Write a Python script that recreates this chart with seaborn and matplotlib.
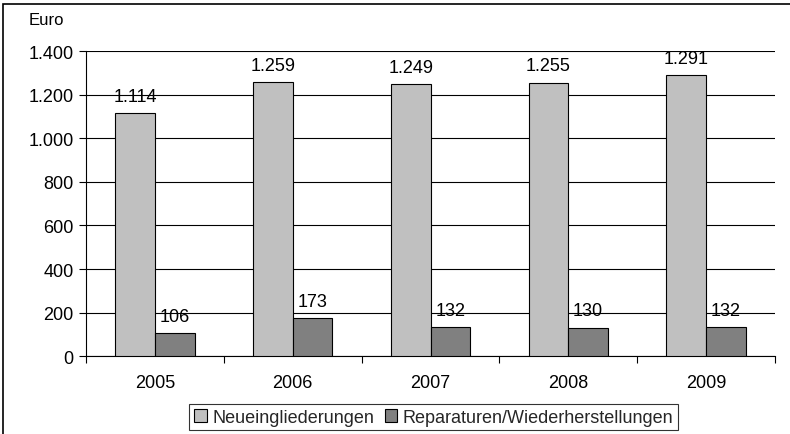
import matplotlib
matplotlib.use("Agg")
import matplotlib.pyplot as plt
import matplotlib.ticker as mticker
from matplotlib.patches import Rectangle
import seaborn as sns
import pandas as pd

years = ["2005", "2006", "2007", "2008", "2009"]
neu = [1114, 1259, 1249, 1255, 1291]
rep = [106, 173, 132, 130, 132]
series = ["Neueingliederungen", "Reparaturen/Wiederherstellungen"]
yticks = [0, 200, 400, 600, 800, 1000, 1200, 1400]

df = pd.DataFrame({
    "Jahr": years * 2,
    "Wert": neu + rep,
    "Serie": [series[0]] * len(years) + [series[1]] * len(years),
})

sns.set_theme(style="white")
plt.rcParams["font.family"] = ["Liberation Sans", "DejaVu Sans"]

fig = plt.figure(figsize=(7.9, 4.35), dpi=100)
ax = fig.add_axes([0.109, 0.179, 0.872, 0.701])

sns.barplot(data=df, x="Jahr", y="Wert", hue="Serie", order=years,
            hue_order=series, palette=["#C0C0C0", "#808080"],
            width=0.575, edgecolor="black", linewidth=0.8,
            saturation=1, ax=ax, zorder=3)

ax.set_ylim(0, 1400)
ax.set_xlim(-0.5, len(years) - 0.5)
ax.set_yticks(yticks)
ax.yaxis.set_major_formatter(mticker.FuncFormatter(
    lambda v, p: f"{int(v):,}".replace(",", ".")))
ax.grid(axis="y", color="black", linewidth=0.8, zorder=0)
ax.set_axisbelow(True)
for s in ["top", "right"]:
    ax.spines[s].set_visible(False)
for s in ["left", "bottom"]:
    ax.spines[s].set_color("black")
    ax.spines[s].set_linewidth(0.8)
ax.set_xlabel("")
ax.set_ylabel("")

# x ticks at group boundaries, labels centered
ax.set_xticks([i - 0.5 for i in range(len(years) + 1)], minor=False)
ax.set_xticklabels([""] * (len(years) + 1))
ax.set_xticks(range(len(years)), minor=True)
ax.set_xticklabels(years, minor=True)
ax.tick_params(axis="x", which="major", direction="out", length=5,
               width=0.8, color="black", bottom=True)
ax.tick_params(axis="x", which="minor", length=0, pad=13, labelsize=13,
               labelcolor="black")
ax.tick_params(axis="y", direction="out", length=5, width=0.8,
               color="black", left=True, labelsize=13, labelcolor="black", pad=4)

for cont in ax.containers:
    labels = [f"{int(round(b.get_height())):,}".replace(",", ".") for b in cont]
    ax.bar_label(cont, labels=labels, padding=6, fontsize=13, color="black")

fig.text(0.036, 0.954, "Euro", fontsize=12, ha="left", va="center",
         color="black")

handles, lbls = ax.get_legend_handles_labels()
ax.get_legend().remove()
leg = fig.legend(handles, lbls, loc="center", bbox_to_anchor=(0.549, 0.038),
                 ncol=2, frameon=True, fancybox=False, fontsize=13,
                 handlelength=0.7, handleheight=0.7, handletextpad=0.3,
                 columnspacing=0.6, borderpad=0.25, borderaxespad=0)
leg.get_frame().set_edgecolor("black")
leg.get_frame().set_linewidth(0.8)

fig.patches.append(Rectangle((0.004, -0.05), 1.2, 1.039,
                             transform=fig.transFigure, fill=False,
                             edgecolor="black", linewidth=1.2))

fig.savefig("out.png", dpi=100)
